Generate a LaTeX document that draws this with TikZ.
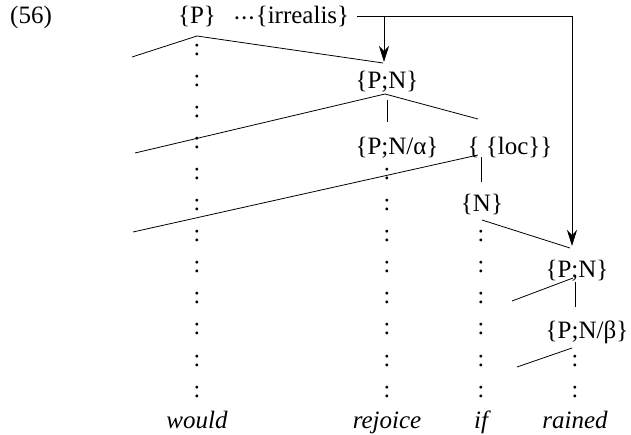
\documentclass[tikz,border=0pt]{standalone}
\usepackage{fontspec}
\setmainfont{Liberation Serif}
\usetikzlibrary{arrows.meta}
\begin{document}
\begin{tikzpicture}[x=1pt,y=-1pt,
  lbl/.style={anchor=base,inner sep=0pt,font=\fontsize{25}{29}\selectfont},
  colon/.style={anchor=base,inner sep=0pt,font=\fontsize{24}{28}\selectfont},
  ln/.style={line width=0.8pt},
  arr/.style={line width=0.8pt,-{Stealth[length=16pt,width=10pt,inset=5pt]}}]
\useasboundingbox (0,0) rectangle (631,434);
% labels
\node[lbl] (ex) at (31,23) {(56)};
\node[lbl] (P) at (197,23) {\{P\}};
\node[lbl] (irr) at (291,23) {\raisebox{-3pt}{·\kern-1pt·\kern-1pt·}\{irrealis\}};
\node[lbl] (pn1) at (387,88) {\{P;N\}};
\node[lbl] (pna) at (397,154) {\{P;N/α\}};
\node[lbl] (loc) at (510,154) {\{ \{loc\}\}};
\node[lbl] (N) at (482,211) {\{N\}};
\node[lbl] (pn2) at (577,277) {\{P;N\}};
\node[lbl] (pnb) at (587,338) {\{P;N/β\}};
\node[lbl] (would) at (197,428) {\itshape would};
\node[lbl] (rejoice) at (387,428) {\itshape rejoice};
\node[lbl] (if) at (481,428) {\itshape if};
\node[lbl] (rained) at (575,428) {\itshape rained};
% colons
\foreach \k in {0,...,11} \node[colon] (cw\k) at (197,{55+31.1*\k}) {:};
\foreach \k in {4,...,11} \node[colon] (cr\k) at (387,{55+31.1*\k}) {:};
\foreach \k in {6,...,11} \node[colon] (ci\k) at (481,{55+31.1*\k}) {:};
\foreach \k in {10,11} \node[colon] (cn\k) at (575,{55+31.1*\k}) {:};
% coordinates
\coordinate (aP) at (197,36);
\coordinate (aPl) at (132,57);
\coordinate (aPr) at (383,63);
\coordinate (a1) at (385,94);
\coordinate (a1l) at (135,153);
\coordinate (a1r) at (478,119);
\coordinate (v1t) at (387,100);
\coordinate (v1b) at (387,122);
\coordinate (aL) at (478,155);
\coordinate (aLl) at (133,232);
\coordinate (v2t) at (481,157);
\coordinate (v2b) at (481,182);
\coordinate (aN) at (482,220);
\coordinate (aNr) at (570,248);
\coordinate (a2) at (573,278);
\coordinate (a2l) at (512,301);
\coordinate (v3t) at (575,282);
\coordinate (v3b) at (575,307);
\coordinate (aB) at (572,348);
\coordinate (aBl) at (517,367);
\coordinate (h0) at (357,16);
\coordinate (hA) at (384,16);
\coordinate (tA) at (384,62);
\coordinate (hC) at (572,16);
\coordinate (tB) at (572,246);
% tree lines
\draw[ln] (aPl) -- (aP) -- (aPr);
\draw[ln] (a1l) -- (a1) -- (a1r);
\draw[ln] (v1t) -- (v1b);
\draw[ln] (aLl) -- (aL);
\draw[ln] (v2t) -- (v2b);
\draw[ln] (aN) -- (aNr);
\draw[ln] (a2l) -- (a2);
\draw[ln] (v3t) -- (v3b);
\draw[ln] (aB) -- (aBl);
% arrows
\draw[ln] (h0) -- (hC);
\draw[arr] (hA) -- (tA);
\draw[arr] (hC) -- (tB);
\end{tikzpicture}
\end{document}
